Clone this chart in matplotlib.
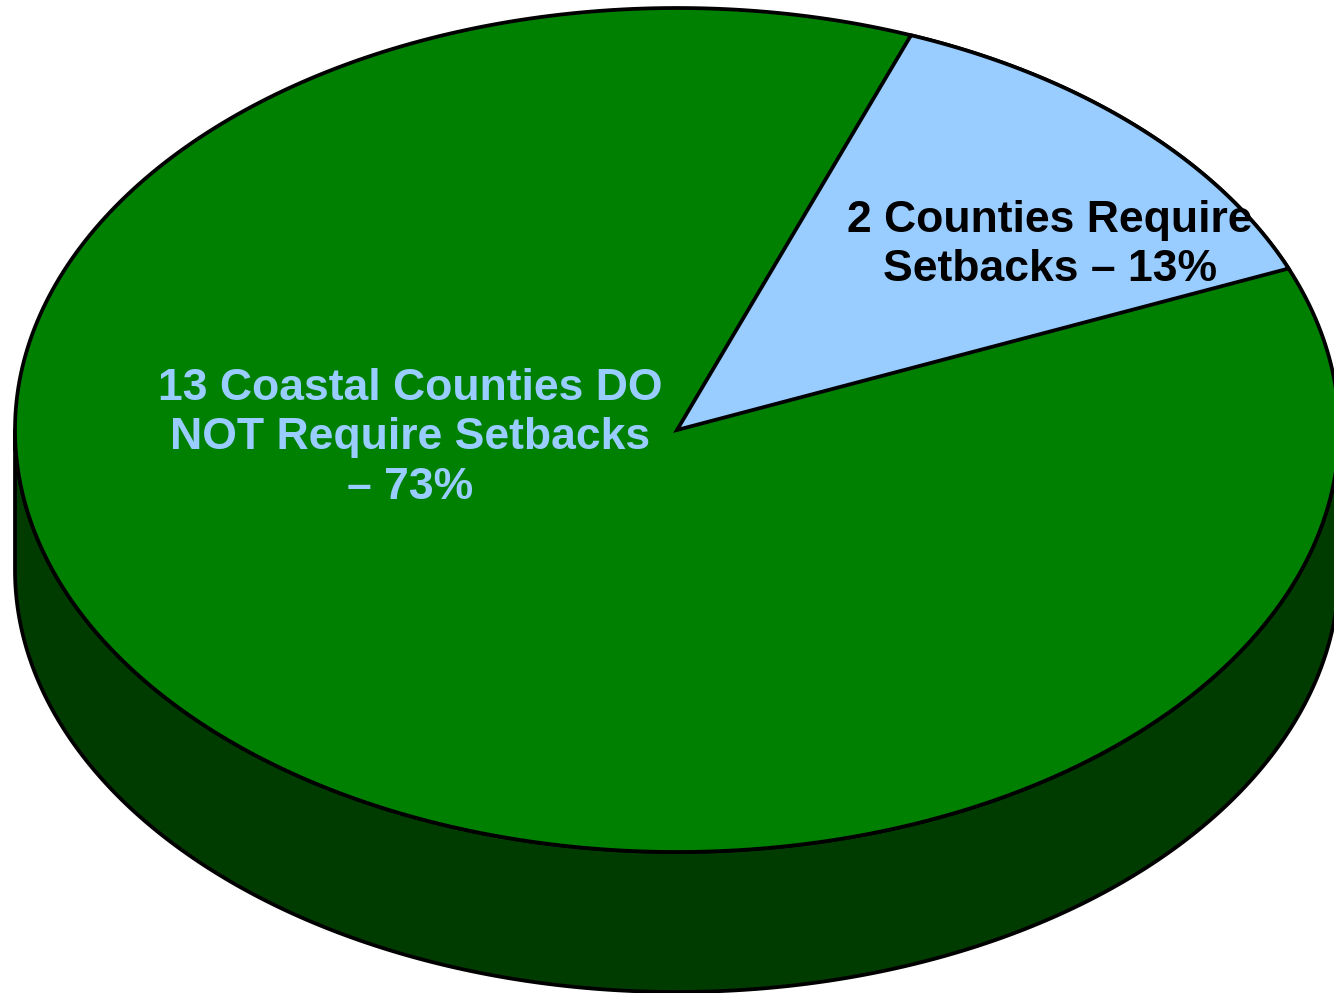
import numpy as np
import matplotlib
matplotlib.use("Agg")
import matplotlib.pyplot as plt
from matplotlib.patches import Polygon

# slice data
labels = ["13 Coastal Counties DO\nNOT Require Setbacks\n\u2013 73%",
          "2 Counties Require\nSetbacks \u2013 13%"]
shares = [73, 13]
top_colors = ["#008000", "#99CCFF"]
side_color = "#003C00"
label_colors = ["#99CCFF", "#000000"]
start_angle = 22.5  # degrees, where the light-blue slice begins

W, H = 1334, 993
cx, cy, a, b, depth = 677, 430, 662, 422, 140

fig = plt.figure(figsize=(W / 100, H / 100), dpi=100)
ax = fig.add_axes([0, 0, 1, 1])
ax.set_xlim(0, W)
ax.set_ylim(H, 0)
ax.axis("off")


def arc(t0, t1, dy=0, n=400):
    t = np.radians(np.linspace(t0, t1, n))
    return np.column_stack([cx + a * np.cos(t), cy - b * np.sin(t) + dy])


lw = 2.7
# side wall (front half)
front = arc(180, 360)
side = np.vstack([front, arc(360, 180, dy=depth)])
ax.add_patch(Polygon(side, closed=True, fc=side_color, ec="black", lw=lw, joinstyle="round"))

# top face: whole ellipse green, then the small slice on top
ax.add_patch(Polygon(arc(0, 360), closed=True, fc=top_colors[0], ec="black", lw=lw))
span = shares[1] / 100 * 360
wedge = np.vstack([[cx, cy], arc(start_angle, start_angle + span)])
ax.add_patch(Polygon(wedge, closed=True, fc=top_colors[1], ec="black", lw=lw, joinstyle="miter"))

txt = dict(ha="center", va="center", fontsize=32, fontweight="bold",
           family="Liberation Sans", linespacing=1.27)
ax.text(410, 438, labels[0], color=label_colors[0], **txt)
ax.text(1050, 245, labels[1], color=label_colors[1], **txt)

fig.savefig("out.png", dpi=100)
